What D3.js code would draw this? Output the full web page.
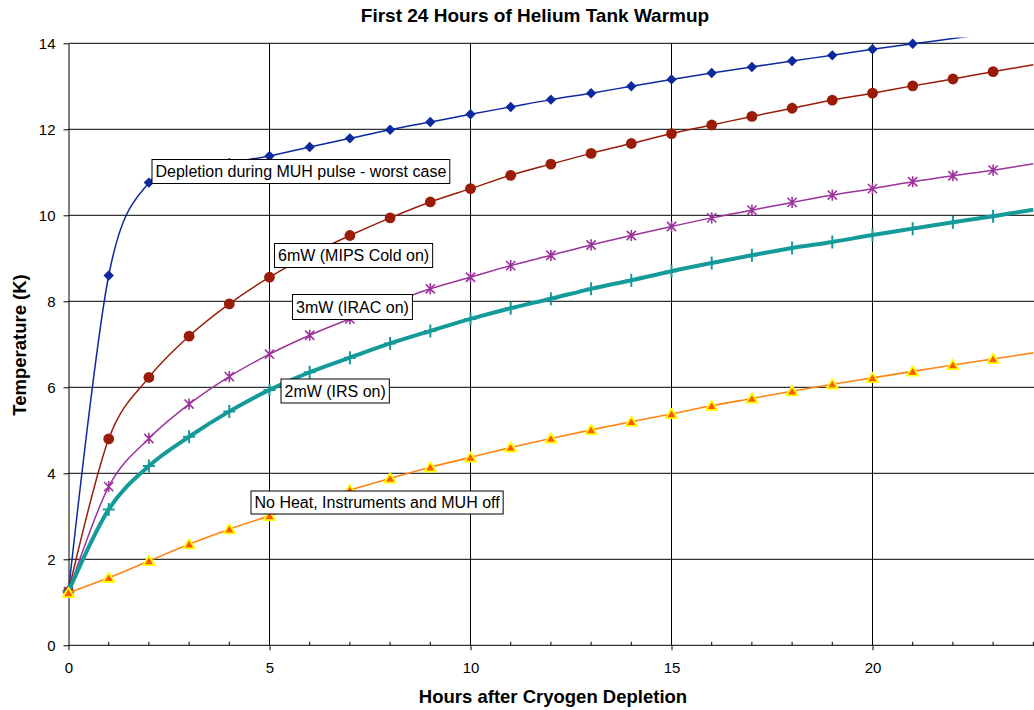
<!DOCTYPE html>
<html>
<head>
<meta charset="utf-8">
<script src="https://cdn.jsdelivr.net/npm/d3@7"></script>
<style>
  body { margin: 0; background: #fff; }
  svg { display: block; font-family: "Liberation Sans", Arial, sans-serif; }
</style>
</head>
<body>
<div id="chart"></div>
<script>
// hours after depletion
const hours = [0, 1, 2, 3, 4, 5, 6, 7, 8, 9, 10, 11, 12, 13, 14, 15, 16, 17, 18, 19, 20, 21, 22, 23, 24];

// temperature (K) per series
const worstCase = [1.25, 8.6, 10.76, 11.02, 11.22, 11.38, 11.59, 11.79, 11.99, 12.17, 12.35, 12.52, 12.69, 12.84, 13.0, 13.16, 13.31, 13.45, 13.59, 13.72, 13.86, 13.99, 14.11, 14.24];
const mips6mW = [1.25, 4.80, 6.23, 7.19, 7.94, 8.56, 9.08, 9.53, 9.94, 10.31, 10.62, 10.93, 11.19, 11.44, 11.67, 11.90, 12.10, 12.30, 12.49, 12.68, 12.84, 13.01, 13.17, 13.34, 13.50];
const irac3mW = [1.25, 3.69, 4.81, 5.61, 6.25, 6.77, 7.21, 7.59, 7.95, 8.29, 8.56, 8.83, 9.07, 9.31, 9.53, 9.74, 9.94, 10.12, 10.30, 10.47, 10.62, 10.78, 10.92, 11.05, 11.20];
const irs2mW = [1.25, 3.16, 4.17, 4.85, 5.44, 5.94, 6.35, 6.69, 7.02, 7.31, 7.59, 7.84, 8.06, 8.29, 8.49, 8.70, 8.89, 9.07, 9.24, 9.38, 9.54, 9.69, 9.84, 9.98, 10.13];
const noHeat = [1.22, 1.57, 1.96, 2.35, 2.70, 3.01, 3.32, 3.61, 3.88, 4.14, 4.37, 4.60, 4.81, 5.01, 5.20, 5.38, 5.57, 5.74, 5.91, 6.07, 6.22, 6.37, 6.52, 6.66, 6.80];

const xTicks = [0, 5, 10, 15, 20];
const yTicks = [0, 2, 4, 6, 8, 10, 12, 14];

const labels = [
    "Depletion during MUH pulse - worst case",
    "6mW (MIPS Cold on)",
    "3mW (IRAC on)",
    "2mW (IRS on)",
    "No Heat, Instruments and MUH off"
];

const W = 1034, H = 710;
const plotLeft = 68.5, plotTop = 43.3, plotBottom = 645.3;

const svg = d3.select("#chart").append("svg")
    .attr("width", W)
    .attr("height", H);

const x = d3.scaleLinear().domain([0, 25]).range([plotLeft, plotLeft + 25 * 40.2]);
const y = d3.scaleLinear().domain([0, 14]).range([plotBottom, plotTop]);

// title + axis titles
svg.append("text")
    .attr("x", 535).attr("y", 22)
    .attr("text-anchor", "middle")
    .attr("font-size", "19px").attr("font-weight", "bold")
    .text("First 24 Hours of Helium Tank Warmup");

svg.append("text")
    .attr("transform", "translate(26,345) rotate(-90)")
    .attr("text-anchor", "middle")
    .attr("font-size", "18.5px").attr("font-weight", "bold")
    .text("Temperature (K)");

svg.append("text")
    .attr("x", 553).attr("y", 703)
    .attr("text-anchor", "middle")
    .attr("font-size", "18.5px").attr("font-weight", "bold")
    .text("Hours after Cryogen Depletion");

// grid
svg.append("g").selectAll("line")
    .data(yTicks.filter(d => d > 0))
    .enter().append("line")
    .attr("x1", plotLeft).attr("x2", W)
    .attr("y1", d => y(d)).attr("y2", d => y(d))
    .attr("stroke", "#000").attr("stroke-width", 1);

svg.append("g").selectAll("line")
    .data(xTicks.filter(d => d > 0))
    .enter().append("line")
    .attr("x1", d => x(d)).attr("x2", d => x(d))
    .attr("y1", plotTop).attr("y2", plotBottom)
    .attr("stroke", "#000").attr("stroke-width", 1);

// axes
const xAxis = svg.append("g")
    .attr("transform", `translate(0,${plotBottom})`)
    .call(d3.axisBottom(x).tickValues(xTicks).tickSize(5).tickSizeOuter(0).tickPadding(12));
xAxis.select(".domain").attr("d", `M${plotLeft},0H${W}`);

// minor ticks (inside)
svg.append("g").selectAll("line")
    .data(hours.filter(h => h % 5 !== 0))
    .enter().append("line")
    .attr("x1", d => x(d)).attr("x2", d => x(d))
    .attr("y1", plotBottom - 3.5).attr("y2", plotBottom)
    .attr("stroke", "#000");

const yAxis = svg.append("g")
    .attr("transform", `translate(${plotLeft},0)`)
    .call(d3.axisLeft(y).tickValues(yTicks).tickSize(5).tickSizeOuter(0).tickPadding(8));

svg.selectAll(".tick text")
    .attr("font-size", "15px")
    .attr("font-family", "Liberation Sans, Arial, sans-serif")
    .attr("fill", "#000");
svg.selectAll(".domain, .tick line").attr("stroke", "#000");
xAxis.selectAll(".tick text").attr("dy", null).attr("y", 28);

// series
svg.append("defs").append("clipPath").attr("id", "plotclip")
    .append("rect")
    .attr("x", plotLeft - 8).attr("y", 37.5)
    .attr("width", W).attr("height", plotBottom - 37.5 + 10);

const line = d3.line()
    .x(d => x(d[0]))
    .y(d => y(d[1]))
    .curve(d3.curveCardinal.tension(0));

const series = [
    { values: worstCase, color: "#0c2a9e", width: 1.5, marker: "diamond" },
    { values: mips6mW, color: "#9a1c08", width: 1.5, marker: "circle" },
    { values: irac3mW, color: "#9c329c", width: 1.5, marker: "star" },
    { values: irs2mW, color: "#159a9a", width: 4, marker: "plus" },
    { values: noHeat, color: "#ff8410", width: 1.6, marker: "triangle" }
];

const markerPath = {
    diamond: "M0,-5.2L5.2,0L0,5.2L-5.2,0Z",
    star: "M-4.6,-4.6L4.6,4.6M-4.6,4.6L4.6,-4.6M0,-5.6V5.6",
    plus: "M-6,0H6M0,-6.5V6.5",
    triangle: "M0,-5.2L5.6,4.2L-5.6,4.2Z"
};

series.forEach(s => {
    const pts = s.values.map((v, i) => [hours[i], v]);
    const g = svg.append("g");

    g.append("path")
        .datum(pts)
        .attr("clip-path", "url(#plotclip)")
        .attr("fill", "none")
        .attr("stroke", s.color)
        .attr("stroke-width", s.width)
        .attr("d", line);

    const shown = pts.filter(p => p[0] < 24 && p[1] <= 14);

    if (s.marker === "circle") {
        g.selectAll("circle").data(shown).enter().append("circle")
            .attr("cx", d => x(d[0])).attr("cy", d => y(d[1]))
            .attr("r", 5.4)
            .attr("fill", s.color);
    } else if (s.marker === "diamond") {
        g.selectAll(".m").data(shown).enter().append("path")
            .attr("transform", d => `translate(${x(d[0])},${y(d[1])})`)
            .attr("d", markerPath.diamond)
            .attr("fill", s.color);
    } else if (s.marker === "triangle") {
        g.selectAll(".m").data(shown).enter().append("path")
            .attr("transform", d => `translate(${x(d[0])},${y(d[1])})`)
            .attr("d", markerPath.triangle)
            .attr("fill", "#ff5a00")
            .attr("stroke", "#ffff00")
            .attr("stroke-width", 1.8)
            .attr("stroke-linejoin", "round");
    } else {
        g.selectAll(".m").data(shown).enter().append("path")
            .attr("transform", d => `translate(${x(d[0])},${y(d[1])})`)
            .attr("d", markerPath[s.marker])
            .attr("fill", "none")
            .attr("stroke", s.color)
            .attr("stroke-width", s.marker === "plus" ? 2 : 1.6);
    }
});

// callout boxes
const boxPos = [
    [152, 159.5, 24],
    [274.5, 243.5, 24],
    [292.5, 294.5, 25],
    [281, 379, 24],
    [251, 491, 23]
];

labels.forEach((t, i) => {
    const [bx, by, bh] = boxPos[i];
    const g = svg.append("g");
    const rect = g.append("rect")
        .attr("x", bx).attr("y", by)
        .attr("height", bh)
        .attr("fill", "#fff")
        .attr("stroke", "#000")
        .attr("stroke-width", 1);
    const txt = g.append("text")
        .attr("x", bx + 3.5).attr("y", by + bh / 2 + 5.5)
        .attr("font-size", "16px")
        .attr("fill", "#000")
        .text(t);
    rect.attr("width", txt.node().getComputedTextLength() + 7);
});
</script>
</body>
</html>
